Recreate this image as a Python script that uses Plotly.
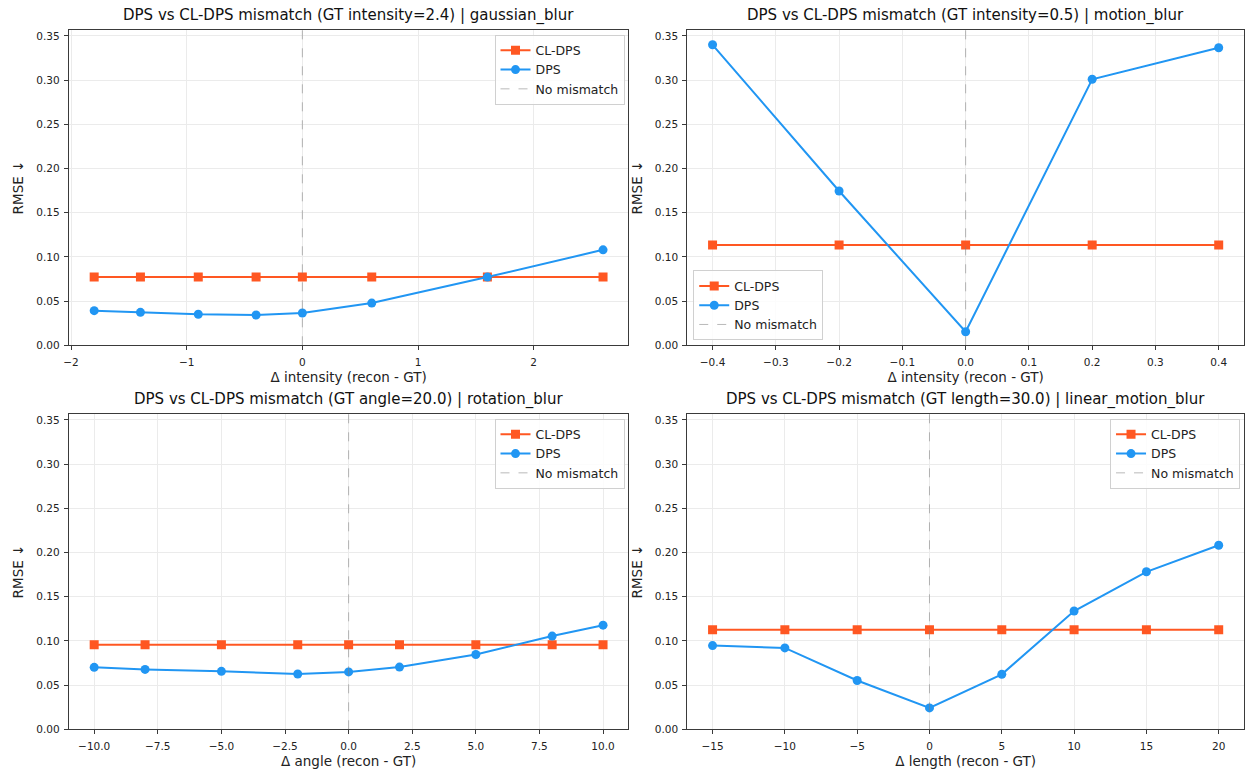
import plotly.graph_objects as go

# ---------------- data ----------------
gauss_dx = [-1.8, -1.4, -0.9, -0.4, 0.0, 0.6, 1.6, 2.6]
gauss_cl = [0.0772] * 8
gauss_dps = [0.0392, 0.0373, 0.0351, 0.0343, 0.0366, 0.0478, 0.0772, 0.108]

motion_dx = [-0.4, -0.2, 0.0, 0.2, 0.4]
motion_cl = [0.1134] * 5
motion_dps = [0.340, 0.1746, 0.0153, 0.301, 0.3366]

rot_dx = [-10, -8, -5, -2, 0, 2, 5, 8, 10]
rot_cl = [0.0958] * 9
rot_dps = [0.0701, 0.0678, 0.0656, 0.0626, 0.0649, 0.0704, 0.0846, 0.1055, 0.1178]

lin_dx = [-15, -10, -5, 0, 5, 10, 15, 20]
lin_cl = [0.1126] * 8
lin_dps = [0.0947, 0.0921, 0.0552, 0.0242, 0.0622, 0.1338, 0.1782, 0.2083]

titles = [
    "DPS vs CL-DPS mismatch (GT intensity=2.4) | gaussian_blur",
    "DPS vs CL-DPS mismatch (GT intensity=0.5) | motion_blur",
    "DPS vs CL-DPS mismatch (GT angle=20.0) | rotation_blur",
    "DPS vs CL-DPS mismatch (GT length=30.0) | linear_motion_blur",
]
xlabels = [
    "Δ intensity (recon - GT)",
    "Δ intensity (recon - GT)",
    "Δ angle (recon - GT)",
    "Δ length (recon - GT)",
]
y_max = 0.357

# ---------------- layout geometry ----------------
W, H = 1247, 774
xdoms = [[64 / W, 626 / W], [685 / W, 1244 / W]]
ydoms = [[1 - 348 / H, 1 - 30 / H], [1 - 735 / H, 1 - 417 / H]]

panels = [
    dict(dx=gauss_dx, cl=gauss_cl, dps=gauss_dps, xr=[-2.02, 2.82], dtick=1, fmt="d", col=0, row=0),
    dict(dx=motion_dx, cl=motion_cl, dps=motion_dps, xr=[-0.44, 0.44], dtick=0.1, fmt=".1f", col=1, row=0),
    dict(dx=rot_dx, cl=rot_cl, dps=rot_dps, xr=[-11, 11], dtick=2.5, fmt=".1f", col=0, row=1),
    dict(dx=lin_dx, cl=lin_cl, dps=lin_dps, xr=[-16.75, 21.75], dtick=5, fmt="d", col=1, row=1),
]

ORANGE = "#FF5722"
BLUE = "#2196F3"
FONT = "DejaVu Sans"

fig = go.Figure()
layout = dict(
    width=W, height=H,
    margin=dict(l=0, r=0, t=0, b=0),
    paper_bgcolor="white", plot_bgcolor="white",
    font=dict(family=FONT, color="#222222", size=12),
    showlegend=True,
    annotations=[],
)

legend_pos = [
    dict(x=622 / W, y=1 - 35 / H, xanchor="right", yanchor="top"),
    dict(x=691 / W, y=1 - 343 / H, xanchor="left", yanchor="bottom"),
    dict(x=622 / W, y=1 - 422 / H, xanchor="right", yanchor="top"),
    dict(x=1240 / W, y=1 - 422 / H, xanchor="right", yanchor="top"),
]

for i, p in enumerate(panels):
    n = i + 1
    xa = "x" if n == 1 else f"x{n}"
    ya = "y" if n == 1 else f"y{n}"
    leg = "legend" if n == 1 else f"legend{n}"

    fig.add_trace(go.Scatter(
        x=p["dx"], y=p["cl"], mode="lines+markers", name="CL-DPS",
        line=dict(color=ORANGE, width=2),
        marker=dict(symbol="square", size=9, color=ORANGE),
        xaxis=xa, yaxis=ya, legend=leg))
    fig.add_trace(go.Scatter(
        x=p["dx"], y=p["dps"], mode="lines+markers", name="DPS",
        line=dict(color=BLUE, width=2),
        marker=dict(symbol="circle", size=9, color=BLUE),
        xaxis=xa, yaxis=ya, legend=leg))
    fig.add_trace(go.Scatter(
        x=[0, 0], y=[0, y_max], mode="lines", name="No mismatch",
        line=dict(color="rgba(128,128,128,0.55)", width=1, dash="dash"),
        xaxis=xa, yaxis=ya, legend=leg))

    common_axis = dict(
        showline=True, mirror=True, linecolor="#3a3a3a", linewidth=1,
        showgrid=True, gridcolor="#ebebeb", gridwidth=1,
        zeroline=False, ticks="outside", ticklen=4, tickcolor="#3a3a3a",
        tickfont=dict(size=10.5, family=FONT, color="#222222"),
    )
    layout["xaxis" if n == 1 else f"xaxis{n}"] = dict(
        common_axis, domain=xdoms[p["col"]], anchor=ya, range=p["xr"],
        tick0=0, dtick=p["dtick"], tickformat=p["fmt"], ticklabelstandoff=3,
        title=dict(text=xlabels[i], font=dict(size=13.5, family=FONT), standoff=5),
    )
    layout["yaxis" if n == 1 else f"yaxis{n}"] = dict(
        common_axis, domain=ydoms[p["row"]], anchor=xa, range=[0, y_max],
        tick0=0, dtick=0.05, tickformat=".2f", ticklabelstandoff=2,
        title=dict(text="RMSE ↓", font=dict(size=13.5, family=FONT), standoff=9),
    )
    layout[leg] = dict(
        legend_pos[i],
        bgcolor="rgba(255,255,255,0.85)", bordercolor="#d0d0d0", borderwidth=1,
        font=dict(size=12.5, family=FONT, color="#222222"),
        itemwidth=30, tracegroupgap=0,
    )
    xd = xdoms[p["col"]]
    yd = ydoms[p["row"]]
    layout["annotations"].append(dict(
        text=titles[i], xref="paper", yref="paper",
        x=(xd[0] + xd[1]) / 2, y=yd[1], xanchor="center", yanchor="bottom",
        yshift=3, showarrow=False, font=dict(size=15, family=FONT, color="#111111"),
    ))

fig.update_layout(**layout)
fig.write_html("out.html")
